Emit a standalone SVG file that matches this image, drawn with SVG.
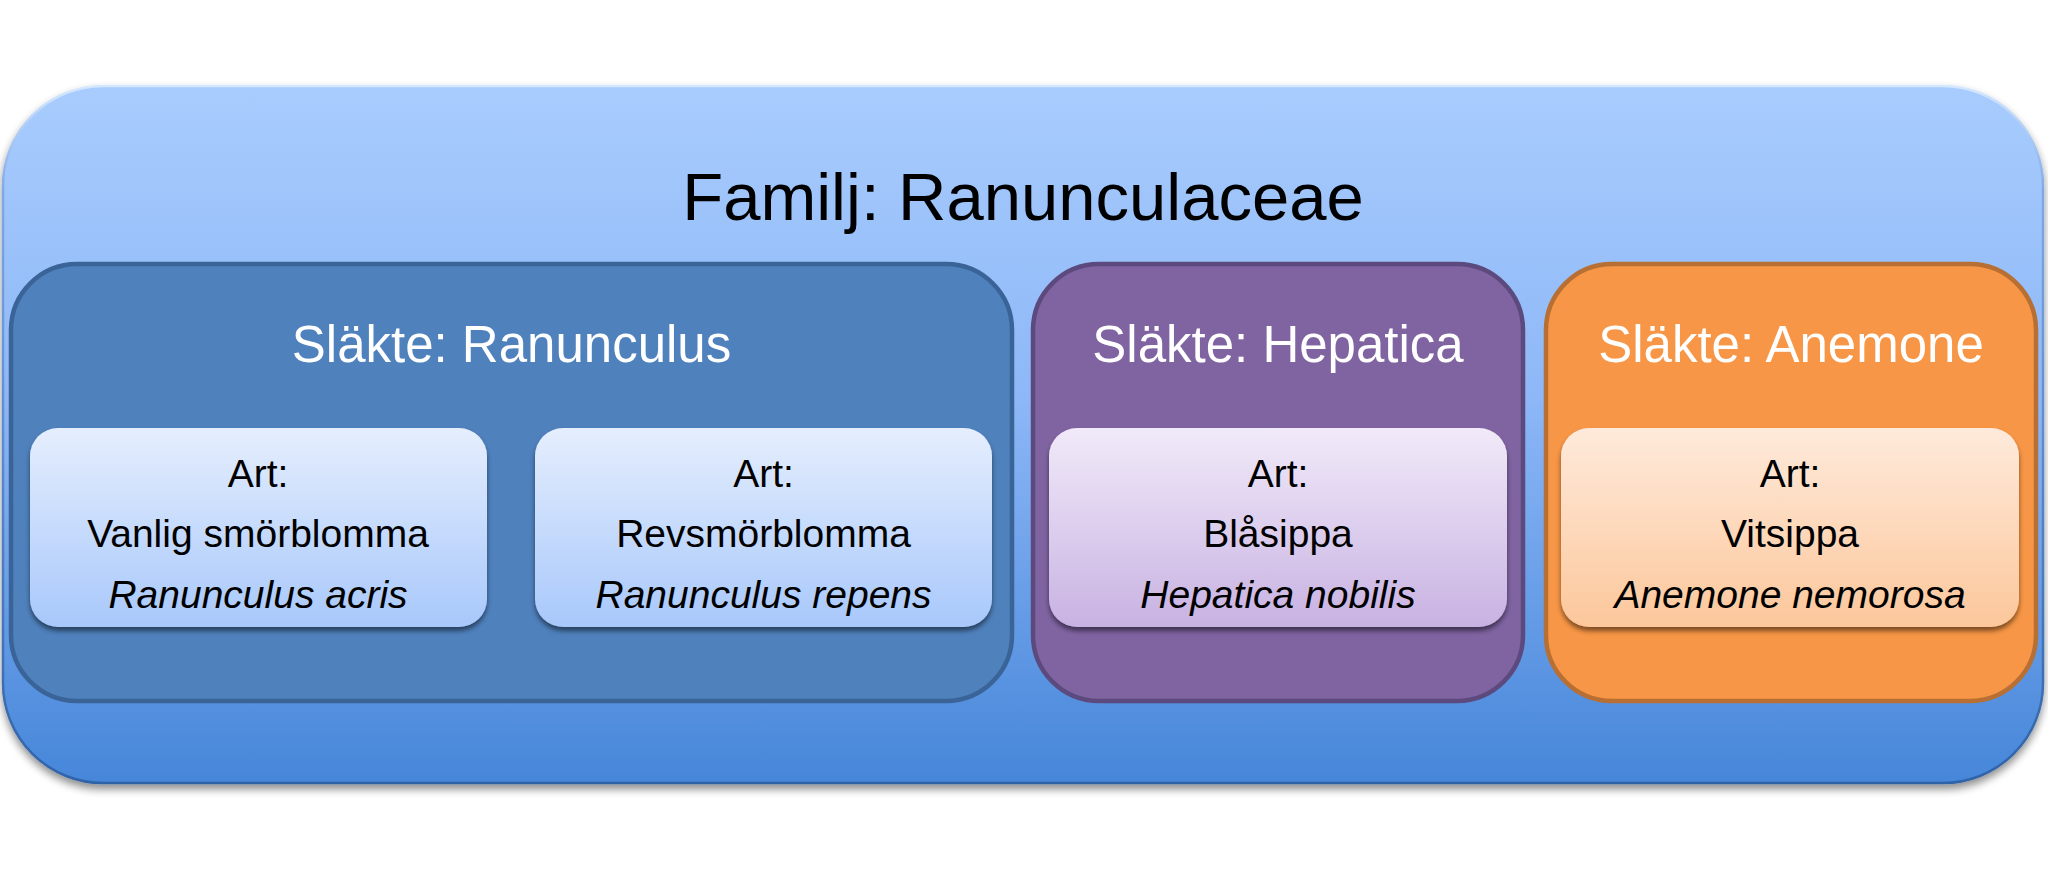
<svg xmlns="http://www.w3.org/2000/svg" width="2048" height="873" viewBox="0 0 2048 873">
  <style>
    .t { font-family: "Liberation Sans", Arial, Helvetica, sans-serif; text-anchor: middle; }
    .fam { font-size: 67px; fill: #000; }
    .gen { font-size: 51px; fill: #fff; }
    .sp { font-size: 39px; fill: #000; }
    .it { font-style: italic; }
  </style>
  <defs>
    <linearGradient id="gOuter" x1="0" y1="0" x2="0" y2="1">
      <stop offset="0" stop-color="#a8ccfd"/>
      <stop offset="0.45" stop-color="#8db7f7"/>
      <stop offset="1" stop-color="#4686d9"/>
    </linearGradient>
    <linearGradient id="gBlue" x1="0" y1="0" x2="0" y2="1">
      <stop offset="0" stop-color="#e5eefd"/>
      <stop offset="1" stop-color="#a8c8fb"/>
    </linearGradient>
    <linearGradient id="gPurple" x1="0" y1="0" x2="0" y2="1">
      <stop offset="0" stop-color="#f1eaf9"/>
      <stop offset="1" stop-color="#c8b2e2"/>
    </linearGradient>
    <linearGradient id="gOrange" x1="0" y1="0" x2="0" y2="1">
      <stop offset="0" stop-color="#feeadb"/>
      <stop offset="1" stop-color="#fcc79b"/>
    </linearGradient>
    <linearGradient id="gEdge" x1="0" y1="0" x2="0" y2="1">
      <stop offset="0" stop-color="#d6e8ff"/>
      <stop offset="0.15" stop-color="#7fa9e6"/>
      <stop offset="1" stop-color="#2f63a8"/>
    </linearGradient>
    <filter id="shOuter" x="-5%" y="-5%" width="110%" height="115%">
      <feGaussianBlur in="SourceAlpha" stdDeviation="4"/>
      <feOffset dx="0" dy="5" result="b"/>
      <feComponentTransfer><feFuncA type="linear" slope="0.45"/></feComponentTransfer>
      <feMerge><feMergeNode/><feMergeNode in="SourceGraphic"/></feMerge>
    </filter>
    <filter id="shArt" x="-5%" y="-10%" width="110%" height="125%">
      <feGaussianBlur in="SourceAlpha" stdDeviation="2.5"/>
      <feOffset dx="0" dy="4" result="b"/>
      <feComponentTransfer><feFuncA type="linear" slope="0.5"/></feComponentTransfer>
      <feMerge><feMergeNode/><feMergeNode in="SourceGraphic"/></feMerge>
    </filter>
  </defs>

  <rect width="2048" height="873" fill="#ffffff"/>

  <g id="familj">
    <rect x="3" y="86" width="2040" height="697" rx="100" ry="100" fill="url(#gOuter)" stroke="url(#gEdge)" stroke-width="2.5" filter="url(#shOuter)"/>
    <text class="t fam" x="1023" y="220">Familj: Ranunculaceae</text>
  </g>

  <g id="slakte-ranunculus">
    <rect x="11" y="264" width="1001" height="437" rx="66" ry="66" fill="#4f81bd" stroke="#3a6498" stroke-width="4.5"/>
    <text class="t gen" x="511.5" y="362">Släkte: Ranunculus</text>
  </g>

  <g id="slakte-hepatica">
    <rect x="1033" y="264" width="490" height="437" rx="66" ry="66" fill="#8064a2" stroke="#5c4a7e" stroke-width="4.5"/>
    <text class="t gen" x="1278" y="362">Släkte: Hepatica</text>
  </g>

  <g id="slakte-anemone">
    <rect x="1546" y="264" width="490" height="437" rx="66" ry="66" fill="#f79646" stroke="#b76f33" stroke-width="4.5"/>
    <text class="t gen" x="1791" y="362">Släkte: Anemone</text>
  </g>

  <g id="art-ranunculus-acris">
    <rect x="30" y="428" width="457" height="199" rx="28" ry="28" fill="url(#gBlue)" filter="url(#shArt)"/>
    <text class="t sp" x="258" y="487">Art:</text>
    <text class="t sp" x="258" y="547">Vanlig smörblomma</text>
    <text class="t sp it" x="258" y="608">Ranunculus acris</text>
  </g>

  <g id="art-ranunculus-repens">
    <rect x="535" y="428" width="457" height="199" rx="28" ry="28" fill="url(#gBlue)" filter="url(#shArt)"/>
    <text class="t sp" x="763.5" y="487">Art:</text>
    <text class="t sp" x="763.5" y="547">Revsmörblomma</text>
    <text class="t sp it" x="763.5" y="608">Ranunculus repens</text>
  </g>

  <g id="art-hepatica-nobilis">
    <rect x="1049" y="428" width="458" height="199" rx="28" ry="28" fill="url(#gPurple)" filter="url(#shArt)"/>
    <text class="t sp" x="1278" y="487">Art:</text>
    <text class="t sp" x="1278" y="547">Blåsippa</text>
    <text class="t sp it" x="1278" y="608">Hepatica nobilis</text>
  </g>

  <g id="art-anemone-nemorosa">
    <rect x="1561" y="428" width="458" height="199" rx="28" ry="28" fill="url(#gOrange)" filter="url(#shArt)"/>
    <text class="t sp" x="1790" y="487">Art:</text>
    <text class="t sp" x="1790" y="547">Vitsippa</text>
    <text class="t sp it" x="1790" y="608">Anemone nemorosa</text>
  </g>

  <g id="connectors"/>
</svg>
